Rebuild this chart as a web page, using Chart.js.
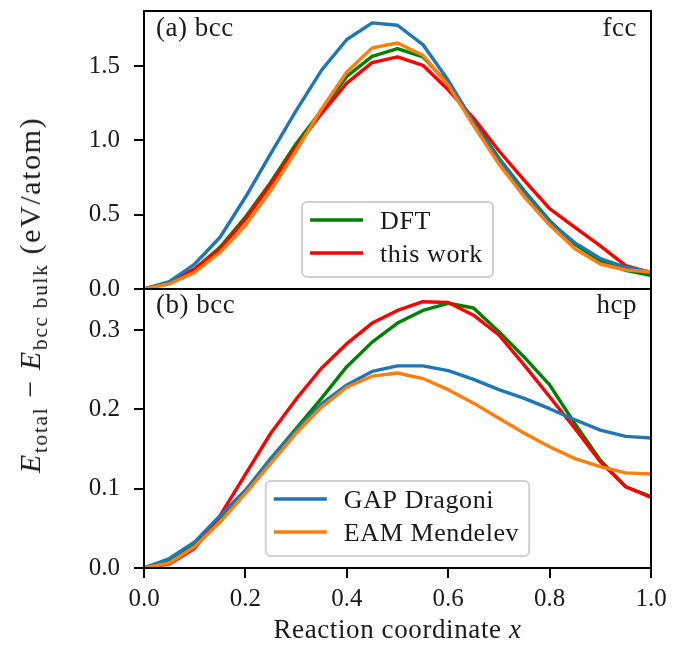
<!DOCTYPE html>
<html>
<head>
<meta charset="utf-8">
<script src="https://cdn.jsdelivr.net/npm/chart.js@4.4.1/dist/chart.umd.min.js"></script>
<style>
  html, body { margin: 0; padding: 0; background: #fff; }
  #fig { position: relative; width: 684px; height: 645px; overflow: hidden; }
  #topChart { position: absolute; left: 0; top: 0; }
  #botChart { position: absolute; left: 0; top: 289px; }
  #ylab {
    position: absolute; left: 30px; top: 295px;
    transform: translate(-50%, -50%) rotate(-90deg);
    white-space: nowrap; line-height: 1; letter-spacing: 1.6px;
    font-family: 'Liberation Serif', serif; font-size: 30px; color: #1a1a1a;
  }
  #ylab sub { font-size: 0.72em; vertical-align: baseline; position: relative; top: 0.32em; }
</style>
</head>
<body>
<div id="fig">
  <canvas id="topChart" width="684" height="300"></canvas>
  <canvas id="botChart" width="684" height="356"></canvas>
  <div id="ylab"><i>E</i><sub>total</sub> − <i>E</i><sub>bcc bulk</sub> (eV/atom)</div>
</div>
<script>
// reaction coordinate samples
const xs = [0, 0.05, 0.1, 0.15, 0.2, 0.25, 0.3, 0.35, 0.4, 0.45, 0.5,
            0.55, 0.6, 0.65, 0.7, 0.75, 0.8, 0.85, 0.9, 0.95, 1.0];

// (a) bcc -> fcc path
const dftFcc  = [0, 0.045, 0.135, 0.28, 0.483, 0.718, 0.977, 1.20, 1.43, 1.565, 1.617,
                 1.561, 1.38, 1.13, 0.88, 0.66, 0.46, 0.30, 0.19, 0.125, 0.09];
const workFcc = [0, 0.04, 0.135, 0.27, 0.47, 0.705, 0.955, 1.18, 1.385, 1.523, 1.561,
                 1.505, 1.34, 1.15, 0.93, 0.73, 0.54, 0.415, 0.29, 0.157, 0.11];
const gapFcc  = [0, 0.05, 0.168, 0.348, 0.617, 0.91, 1.20, 1.471, 1.678, 1.79, 1.774,
                 1.644, 1.404, 1.12, 0.87, 0.65, 0.45, 0.31, 0.205, 0.146, 0.115];
const eamFcc  = [0, 0.034, 0.112, 0.247, 0.427, 0.662, 0.93, 1.21, 1.46, 1.622, 1.655,
                 1.572, 1.37, 1.10, 0.84, 0.62, 0.43, 0.27, 0.168, 0.128, 0.115];

// (b) bcc -> hcp path
const dftHcp  = [0, 0.011, 0.031, 0.064, 0.097, 0.138, 0.176, 0.214, 0.254, 0.285, 0.309,
                 0.325, 0.334, 0.328, 0.298, 0.266, 0.231, 0.182, 0.136, 0.1025, 0.09];
const workHcp = [0, 0.005, 0.025, 0.066, 0.118, 0.17, 0.213, 0.252, 0.283, 0.309, 0.325,
                 0.336, 0.335, 0.319, 0.294, 0.256, 0.216, 0.176, 0.134, 0.1025, 0.089];
const gapHcp  = [0, 0.012, 0.033, 0.066, 0.098, 0.138, 0.174, 0.207, 0.231, 0.248, 0.255,
                 0.255, 0.249, 0.238, 0.225, 0.214, 0.201, 0.187, 0.174, 0.166, 0.164];
const eamHcp  = [0, 0.006, 0.027, 0.058, 0.094, 0.132, 0.170, 0.203, 0.228, 0.242, 0.246,
                 0.239, 0.225, 0.208, 0.189, 0.170, 0.153, 0.138, 0.128, 0.120, 0.1185];

const seriesNames = ['DFT', 'this work', 'GAP Dragoni', 'EAM Mendelev'];
const xTicks = [0, 0.2, 0.4, 0.6, 0.8, 1.0];
const yTicksFcc = [0, 0.5, 1.0, 1.5];
const yTicksHcp = [0, 0.1, 0.2, 0.3];

const FONT = "'Liberation Serif', serif";
const INK = '#1a1a1a';
Chart.defaults.font.family = FONT;
Chart.defaults.color = INK;

const colors = ['#008000', '#ff0000', '#1f77b4', '#ff7f0e'];
const drawOrder = [4, 3, 2, 1];   // EAM on top, DFT underneath

function makeDatasets(lists) {
    return lists.map((ys, i) => ({
        label: seriesNames[i],
        data: xs.map((x, j) => ({ x: x, y: ys[j] })),
        borderColor: colors[i],
        borderWidth: 3.4,
        borderJoinStyle: 'round',
        borderCapStyle: 'square',
        pointRadius: 0,
        tension: 0,
        fill: false,
        order: drawOrder[i]
    }));
}

// black box around the axes
const frame = {
    id: 'frame',
    afterDraw(chart) {
        const { ctx, chartArea: a } = chart;
        ctx.save();
        ctx.strokeStyle = '#000';
        ctx.lineWidth = 2;
        ctx.strokeRect(a.left, a.top, a.right - a.left, a.bottom - a.top);
        ctx.restore();
    }
};

// "(a) bcc" / "fcc" style corner tags
const panelTags = {
    id: 'panelTags',
    afterDatasetsDraw(chart, args, opts) {
        const { ctx, chartArea: a } = chart;
        ctx.save();
        ctx.font = '27px ' + FONT;
        ctx.letterSpacing = '0.5px';
        ctx.fillStyle = INK;
        ctx.textBaseline = 'alphabetic';
        ctx.textAlign = 'left';
        ctx.fillText(opts.left, a.left + 12, a.top + opts.baseline);
        ctx.textAlign = 'right';
        ctx.fillText(opts.right, a.right - 14, a.top + opts.baseline);
        ctx.restore();
    }
};

// legend box at lower centre, listing only some of the datasets
const panelLegend = {
    id: 'panelLegend',
    afterDatasetsDraw(chart, args, opts) {
        const { ctx, chartArea: a } = chart;
        const items = opts.items.map(i => chart.data.datasets[i]);
        ctx.save();
        ctx.font = '26px ' + FONT;
        ctx.letterSpacing = '0.6px';
        const textW = Math.max(...items.map(d => ctx.measureText(d.label).width));
        const padL = 8, handle = 53, gap = 17, padR = 10, rowH = 33, padT = 18, padB = 24;
        const w = padL + handle + gap + textW + padR;
        const h = padT + rowH * (items.length - 1) + padB;
        const x0 = (a.left + a.right) / 2 - w / 2;
        const y0 = a.bottom - 12 - h;
        ctx.beginPath();
        ctx.roundRect(x0, y0, w, h, 5);
        ctx.fillStyle = 'rgba(255,255,255,0.8)';
        ctx.fill();
        ctx.strokeStyle = '#d0d0d0';
        ctx.lineWidth = 2;
        ctx.stroke();
        items.forEach((d, i) => {
            const y = y0 + padT + i * rowH;
            ctx.strokeStyle = d.borderColor;
            ctx.lineWidth = 3.4;
            ctx.beginPath();
            ctx.moveTo(x0 + padL, y);
            ctx.lineTo(x0 + padL + handle, y);
            ctx.stroke();
            ctx.fillStyle = INK;
            ctx.textBaseline = 'alphabetic';
            ctx.textAlign = 'left';
            ctx.fillText(d.label, x0 + padL + handle + gap, y + 9);
        });
        ctx.restore();
    }
};

// x axis title with italic x
const xTitle = {
    id: 'xTitle',
    afterDraw(chart, args, opts) {
        const { ctx, chartArea: a } = chart;
        ctx.save();
        ctx.fillStyle = INK;
        ctx.letterSpacing = '0.6px';
        ctx.textBaseline = 'alphabetic';
        ctx.textAlign = 'left';
        const upright = '27px ' + FONT, slanted = 'italic 27px ' + FONT;
        ctx.font = upright;
        const w1 = ctx.measureText(opts.text).width;
        ctx.font = slanted;
        const w2 = ctx.measureText(opts.symbol).width;
        let x = (a.left + a.right) / 2 - (w1 + w2) / 2;
        ctx.font = upright;
        ctx.fillText(opts.text, x, opts.baseline);
        ctx.font = slanted;
        ctx.fillText(opts.symbol, x + w1, opts.baseline);
        ctx.restore();
    }
};

function yAxis(max, tickList) {
    return {
        type: 'linear',
        min: 0,
        max: max,
        afterBuildTicks: s => { s.ticks = tickList.map(v => ({ value: v })); },
        afterFit: s => { s.width = 144; s.paddingTop = 0; s.paddingBottom = 0; },
        grid: { drawOnChartArea: false, drawTicks: true, tickLength: 10, color: '#000', lineWidth: 2 },
        border: { display: false },
        ticks: { padding: 14, font: { size: 25 }, color: INK, callback: v => v.toFixed(1) }
    };
}

const common = {
    responsive: false,
    animation: false,
    events: [],
    plugins: { legend: { display: false }, tooltip: { enabled: false } }
};

new Chart(document.getElementById('topChart'), {
    type: 'line',
    data: { datasets: makeDatasets([dftFcc, workFcc, gapFcc, eamFcc]) },
    plugins: [frame, panelTags, panelLegend],
    options: {
        ...common,
        layout: { padding: { top: 11, right: 33, bottom: 11, left: 0 } },
        scales: {
            x: { type: 'linear', min: 0, max: 1, display: false },
            y: yAxis(1.87, yTicksFcc)
        },
        plugins: {
            ...common.plugins,
            panelTags: { left: '(a) bcc', right: 'fcc', baseline: 25 },
            panelLegend: { items: [0, 1] }
        }
    }
});

new Chart(document.getElementById('botChart'), {
    type: 'line',
    data: { datasets: makeDatasets([dftHcp, workHcp, gapHcp, eamHcp]) },
    plugins: [frame, panelTags, panelLegend, xTitle],
    options: {
        ...common,
        layout: { padding: { top: 0, right: 33, bottom: 0, left: 0 } },
        scales: {
            x: {
                type: 'linear', min: 0, max: 1,
                afterBuildTicks: s => { s.ticks = xTicks.map(v => ({ value: v })); },
                afterFit: s => { s.height = 77; s.paddingLeft = 0; s.paddingRight = 0; },
                grid: { drawOnChartArea: false, drawTicks: true, tickLength: 10, color: '#000', lineWidth: 2 },
                border: { display: false },
                ticks: { padding: 6, font: { size: 25 }, color: INK, maxRotation: 0, callback: v => v.toFixed(1) }
            },
            y: yAxis(0.352, yTicksHcp)
        },
        plugins: {
            ...common.plugins,
            panelTags: { left: '(b) bcc', right: 'hcp', baseline: 24 },
            panelLegend: { items: [2, 3] },
            xTitle: { text: 'Reaction coordinate ', symbol: 'x', baseline: 349 }
        }
    }
});
</script>
</body>
</html>
